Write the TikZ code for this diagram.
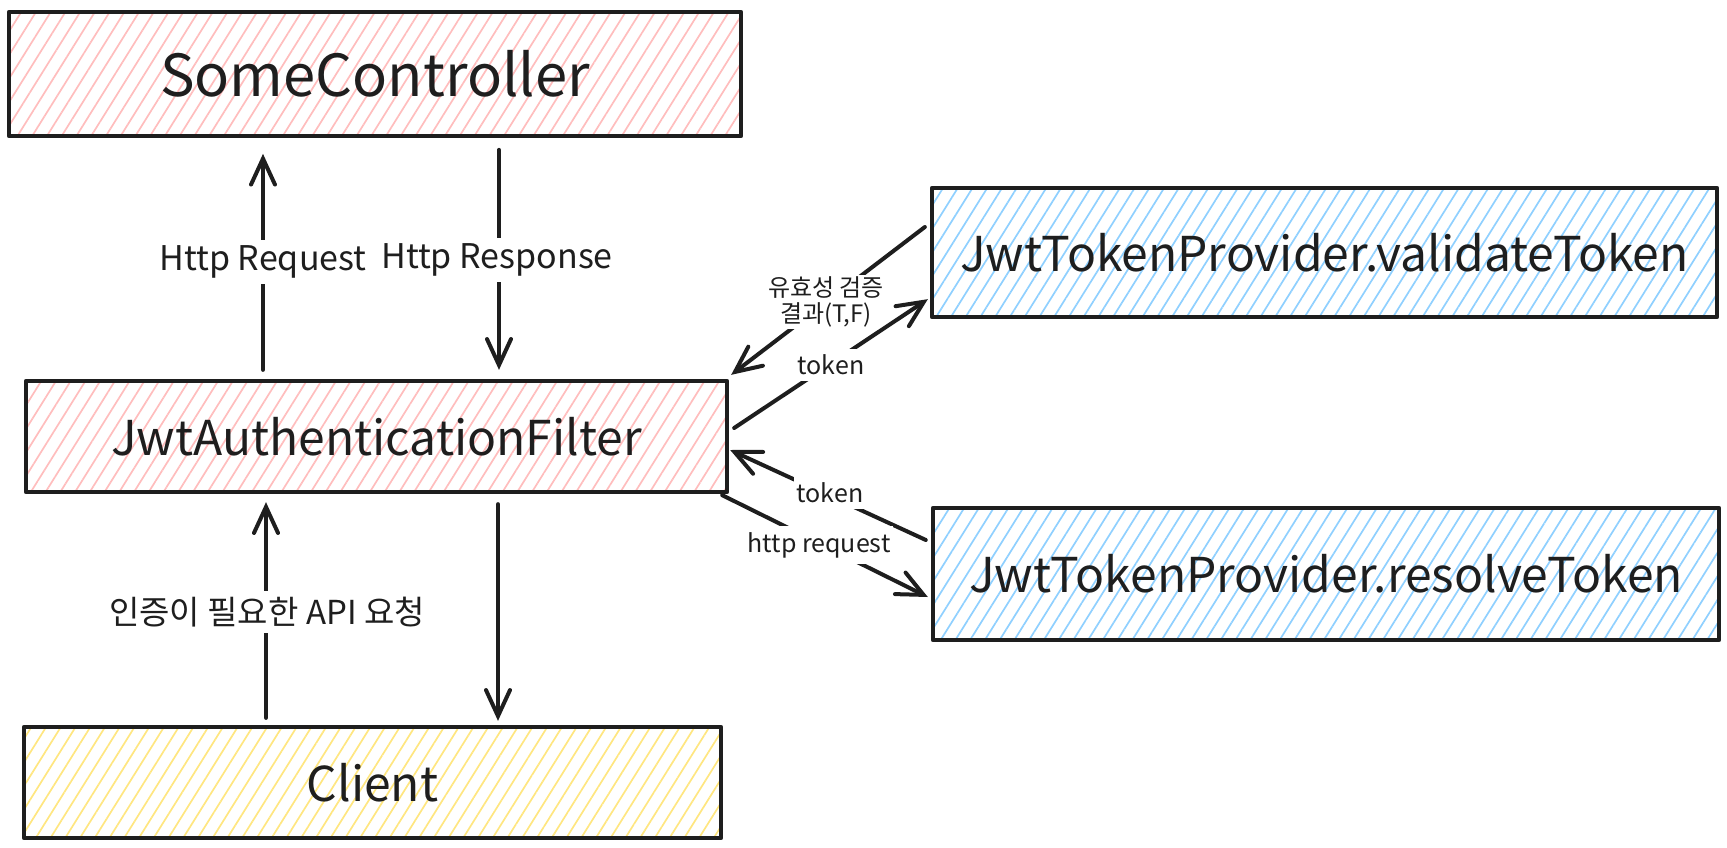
\documentclass[tikz,border=0pt]{standalone}
\usepackage{fontspec}
\setmainfont{Noto Sans CJK KR}
\usetikzlibrary{arrows.meta,patterns.meta,calc}
\definecolor{ink}{HTML}{1E1E1E}
\definecolor{pinkh}{HTML}{FFBDBD}
\definecolor{blueh}{HTML}{8FD0FF}
\definecolor{yellowh}{HTML}{FFE680}
\tikzset{
  box/.style={draw=ink, line width=4.3pt, line join=round, inner sep=0pt,
    text=ink, font=\fontsize{48}{56}\selectfont},
  hatch/.style={pattern={Lines[angle=58,distance=12.5pt,line width=1.7pt]}, pattern color=#1},
  arr/.style={draw=ink, line width=4pt, line cap=round, line join=round,
    -{Straight Barb[length=26pt,width=24pt,line cap=round]}},
  lbl/.style={fill=white, text=ink, inner xsep=3pt, inner ysep=6pt, font=\fontsize{#1}{#1}\selectfont},
}
\begin{document}
\begin{tikzpicture}[x=1pt,y=-1pt]
\useasboundingbox (0,0) rectangle (1727,848);

% boxes
\node[box, hatch=pinkh, minimum width=732pt, minimum height=124pt, font=\fontsize{58}{64}\selectfont] (ctrl) at (375,74) {SomeController};
\node[box, hatch=pinkh, minimum width=701pt, minimum height=111pt] (filter) at (376.5,436.5) {JwtAuthenticationFilter};
\node[box, hatch=yellowh, minimum width=697pt, minimum height=111pt] (client) at (372.5,782.5) {Client};
\node[box, hatch=blueh, minimum width=785pt, minimum height=129pt] (valid) at (1324.5,252.5) {JwtTokenProvider.validateToken};
\node[box, hatch=blueh, minimum width=786pt, minimum height=132pt] (resolve) at (1326,574) {JwtTokenProvider.resolveToken};

% vertical arrows
\draw[arr] ($(filter.north)+(-113.5,-9)$) -- ($(ctrl.south)+(-112,17)$);
\draw[arr] ($(ctrl.south)+(124,13)$) -- ($(filter.north)+(122.5,-9)$);
\draw[arr] ($(client.north)+(-106.5,-7)$) -- ($(filter.south)+(-110.5,8)$);
\draw[arr] ($(filter.south)+(121.5,10)$) -- ($(client.north)+(125.5,-4)$);

% side arrows
\draw[arr] ($(valid.west)+(-5,-25.5)$) -- ($(filter.north east)+(2,-4)$);
\draw[arr] ($(resolve.west)+(-5,-34)$) -- ($(filter.east)+(1,13.5)$);
\draw[arr] ($(filter.south east)+(-7,1)$) -- ($(resolve.west)+(-3,23)$);

% labels
\node[lbl=34] (lreq) at (263,262) {Http Request};
\node[lbl=34] (lresp) at (497,260) {Http Response};
\node[lbl=33] (lapi) at (267,612) {인증이 필요한 API 요청};
\node[lbl=24, align=center, inner xsep=1pt, inner ysep=2pt, font=\fontsize{24}{26}\selectfont] (lvalid) at (826,302) {유효성 검증\\결과(T,F)};
\draw[arr] ($(filter.east)+(5,-8.5)$) -- ($(valid.south west)+(-2,-20)$);
\node[lbl=25] (ltok1) at (831,365) {token};
\node[lbl=25] (ltok2) at (830,493) {token};
\node[lbl=25] (lhttp) at (819,545) {http request};
\end{tikzpicture}
\end{document}
